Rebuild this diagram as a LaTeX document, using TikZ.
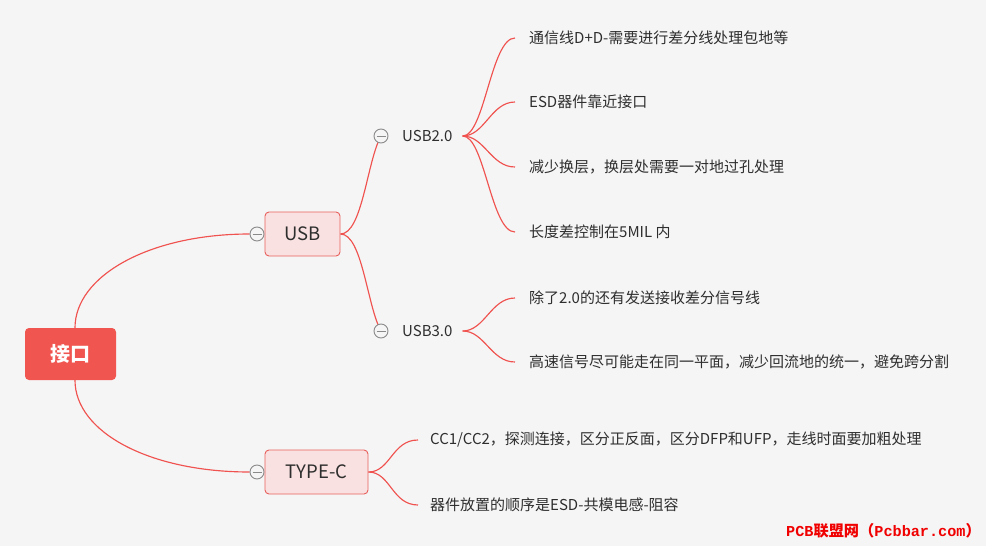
\documentclass[tikz,border=0pt]{standalone}
\usepackage{fontspec}
\setmainfont{Noto Sans CJK SC}
\newfontfamily\wmmono{Liberation Mono}
\usetikzlibrary{calc,backgrounds}
\definecolor{bgc}{HTML}{F5F5F5}
\definecolor{linec}{HTML}{F0524F}
\definecolor{rootc}{HTML}{F05550}
\definecolor{subfill}{HTML}{F8E1E0}
\definecolor{subdraw}{HTML}{E8605C}
\definecolor{txt}{HTML}{2E2E2E}
\definecolor{togc}{HTML}{8A8A8A}
\definecolor{wmred}{HTML}{F00000}
\begin{document}
\begin{tikzpicture}[x=1pt,y=-1pt,
 rootbox/.style={fill=rootc, rounded corners=4pt, minimum width=91pt, minimum height=52pt, text=white, font=\fontsize{20}{22}\selectfont\bfseries, inner sep=0},
 subbox/.style={fill=subfill, draw=subdraw, line width=0.9pt, rounded corners=4pt, minimum height=44pt, text=txt, font=\fontsize{18.5}{22}\selectfont, inner sep=0},
 toggle/.style={circle, draw=togc, fill=bgc, line width=0.9pt, minimum size=14pt, inner sep=0,
   path picture={\draw[togc, line width=0.9pt] ([xshift=-4.5pt]path picture bounding box.center) -- ([xshift=4.5pt]path picture bounding box.center);}},
 midtext/.style={anchor=west, inner xsep=10pt, inner ysep=2pt, text=txt, font=\fontsize{15}{18}\selectfont},
 leaf/.style={anchor=west, inner xsep=14pt, inner ysep=2pt, text=txt, font=\fontsize{15}{18}\selectfont},
 link/.style={draw=linec, line width=1.15pt},
]
\useasboundingbox (0,0) rectangle (986,546);
% main nodes
\node[rootbox] (root) at (70.5,354) {接口};
\node[subbox, minimum width=75pt] (usb) at (302.5,234) {USB};
\node[subbox, minimum width=103pt] (typec) at (316.5,472) {TYPE-C};
\node[toggle] (tusb) at (257,234) {};
\node[toggle] (ttc) at (257,472) {};
\node[toggle] (tu2) at (381,136) {};
\node[toggle] (tu3) at (381,331) {};
\node[midtext] (u2) at (392,136) {USB2.0};
\node[midtext] (u3) at (392,331) {USB3.0};
% leaves
\node[leaf] (l1) at (515,38) {通信线D+D-需要进行差分线处理包地等};
\node[leaf] (l2) at (515,102) {ESD器件靠近接口};
\node[leaf] (l3) at (515,167) {减少换层，换层处需要一对地过孔处理};
\node[leaf] (l4) at (515,232) {长度差控制在5MIL 内};
\node[leaf] (l5) at (515,298) {除了2.0的还有发送接收差分信号线};
\node[leaf] (l6) at (515,362) {高速信号尽可能走在同一平面，减少回流地的统一，避免跨分割};
\node[leaf, inner xsep=12pt] (t1) at (418,440) {CC1/CC2，探测连接，区分正反面，区分DFP和UFP，走线时面要加粗处理};
\node[leaf, inner xsep=12pt] (t2) at (418,505) {器件放置的顺序是ESD-共模电感-阻容};
% watermark
\node[text=wmred, font=\fontsize{15.2}{18}\selectfont\bfseries, inner sep=0, anchor=east] (wm) at (981,531) {{\wmmono\bfseries PCB}联盟网（{\wmmono\bfseries Pcbbar.com}）};
\begin{scope}[on background layer]
\fill[bgc] (0,0) rectangle (986,546);
\draw[link] ([xshift=4.5pt]root.north) .. controls +(0,-52) and +(-100,0) .. (tusb.west);
\draw[link] ([xshift=4.5pt]root.south) .. controls +(0,52) and +(-100,0) .. (ttc.west);
\draw[link] (usb.east) .. controls +(22,0) and +(-14,25) .. (tu2.center);
\draw[link] (usb.east) .. controls +(22,0) and +(-14,-25) .. (tu3.center);
\foreach \l in {l1,l2,l3,l4}{
  \draw[link] (u2.east) .. controls +(22,0) and +(-24,0) .. (\l.west);
}
\foreach \l in {l5,l6}{
  \draw[link] (u3.east) .. controls +(22,0) and +(-24,0) .. (\l.west);
}
\foreach \l in {t1,t2}{
  \draw[link] (typec.east) .. controls +(22,0) and +(-26,0) .. (\l.west);
}
\end{scope}
\end{tikzpicture}
\end{document}
